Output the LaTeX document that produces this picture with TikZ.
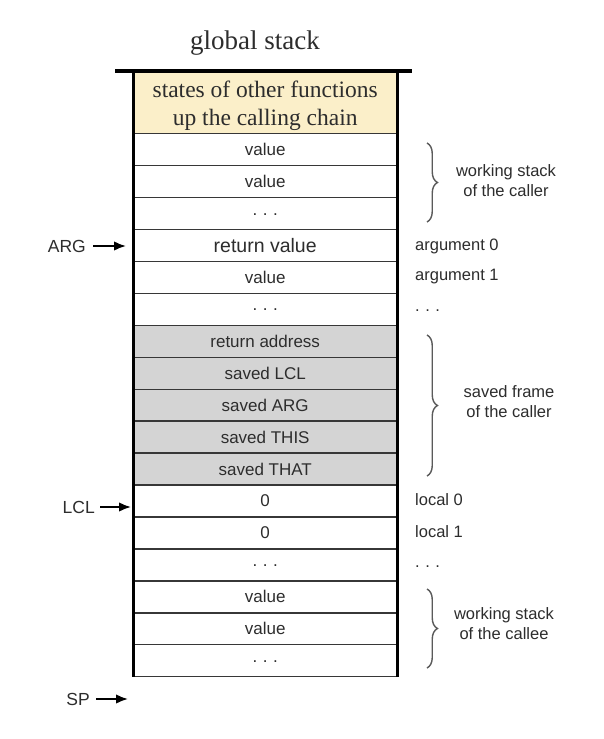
\documentclass[tikz,border=0pt]{standalone}
\usepackage{fontspec}
\setmainfont{Liberation Serif}
\setsansfont{Liberation Sans}
\usetikzlibrary{arrows.meta,decorations.pathreplacing}
\definecolor{yel}{RGB}{251,239,201}
\definecolor{gry}{RGB}{212,212,212}
\definecolor{txt}{RGB}{45,45,45}
\definecolor{edge}{RGB}{55,55,55}
\definecolor{brc}{RGB}{90,90,90}
\newcommand{\mydots}{\raisebox{-3pt}{.\hspace{5.5pt}.\hspace{5.5pt}.}}
\begin{document}
\begin{tikzpicture}[x=1pt,y=-1pt,
  cell/.style={draw=edge, line width=1.4pt, minimum width=263pt, minimum height=31.94pt,
    inner sep=0pt, anchor=north west, font=\sffamily\fontsize{17}{20}\selectfont, text=txt},
  grey/.style={cell, fill=gry},
  side/.style={anchor=west, inner sep=0pt, font=\sffamily\fontsize{16.5}{20}\selectfont, text=txt},
  bracetext/.style={align=center, inner sep=0pt, font=\sffamily\fontsize{16.5}{20}\selectfont, text=txt},
  ptr/.style={line width=1.8pt, -{Latex[length=12pt,width=9.5pt]}},
  ptrlabel/.style={anchor=east, inner sep=0pt, font=\sffamily\fontsize{17.5}{20}\selectfont, text=txt},
  curly/.style={draw=brc, line width=1.4pt, decorate, decoration={brace, amplitude=10.5pt}}
]
\useasboundingbox (0,0) rectangle (603,739);
\fill[white] (0,0) rectangle (603,739);

\node[font=\rmfamily\fontsize{27}{30}\selectfont, text=txt, inner sep=0pt] (title) at (255,43) {global stack};

\node[cell, fill=yel, minimum height=61pt] (states) at (133,72) {};
\node[align=center, inner sep=0pt, text=txt,
  font=\rmfamily\fontsize{23.5}{28}\selectfont] (statestext) at ([yshift=-3pt]states.center) {states of other functions\\up the calling chain};

\def\rh{31.94}
\node[cell] (c1) at (133,133) {value};
\node[cell] (c2) at (133,133+\rh) {value};
\node[cell] (c3) at (133,133+2*\rh) {\mydots};
\node[cell, font=\sffamily\fontsize{19.5}{22}\selectfont] (c4) at (133,133+3*\rh) {return value};
\node[cell] (c5) at (133,133+4*\rh) {value};
\node[cell] (c6) at (133,133+5*\rh) {\mydots};
\node[grey] (c7) at (133,133+6*\rh) {return address};
\node[grey] (c8) at (133,133+7*\rh) {saved LCL};
\node[grey] (c9) at (133,133+8*\rh) {saved ARG};
\node[grey] (c10) at (133,133+9*\rh) {saved THIS};
\node[grey] (c11) at (133,133+10*\rh) {saved THAT};
\node[cell] (c12) at (133,133+11*\rh) {0};
\node[cell] (c13) at (133,133+12*\rh) {0};
\node[cell] (c14) at (133,133+13*\rh) {\mydots};
\node[cell] (c15) at (133,133+14*\rh) {value};
\node[cell] (c16) at (133,133+15*\rh) {value};
\node[cell] (c17) at (133,133+16*\rh) {\mydots};

% outer walls and top bar
\coordinate (barL) at (115,71);
\coordinate (barR) at (412,71);
\draw[line width=3pt] (states.north west) -- (c17.south west);
\draw[line width=3pt] (states.north east) -- (c17.south east);
\draw[line width=3.5pt] (barL) -- (barR);

% right-side labels
\node[side] (a0) at (415,246) {argument 0};
\node[side] (a1) at (415,277) {argument 1};
\node[side] (a2) at (415,310) {\mydots};
\node[side] (l0) at (415,500) {local 0};
\node[side] (l1) at (415,532) {local 1};
\node[side] (l2) at (415,566) {\mydots};

% braces
\coordinate (b1t) at (427,143);
\coordinate (b1b) at (427,222);
\coordinate (b2t) at (427,335);
\coordinate (b2b) at (427,476);
\coordinate (b3t) at (427,589);
\coordinate (b3b) at (427,668);
\draw[curly] (b1t) -- (b1b);
\draw[curly] (b2t) -- (b2b);
\draw[curly] (b3t) -- (b3b);
\node[bracetext] (w1) at (506,181) {working stack\\of the caller};
\node[bracetext] (sf) at (509,402) {saved frame\\of the caller};
\node[bracetext] (w2) at (504,624) {working stack\\of the callee};

% pointers
\node[ptrlabel] (arg) at (86,246) {ARG};
\coordinate (argtip) at (126,246);
\draw[ptr] (arg.east) ++(7,0) -- (argtip);
\node[ptrlabel] (lcl) at (95,507) {LCL};
\coordinate (lcltip) at (131,507);
\draw[ptr] (lcl.east) ++(5,0) -- (lcltip);
\node[ptrlabel] (sp) at (90,699) {SP};
\coordinate (sptip) at (128,699);
\draw[ptr] (sp.east) ++(6,0) -- (sptip);
\end{tikzpicture}
\end{document}
